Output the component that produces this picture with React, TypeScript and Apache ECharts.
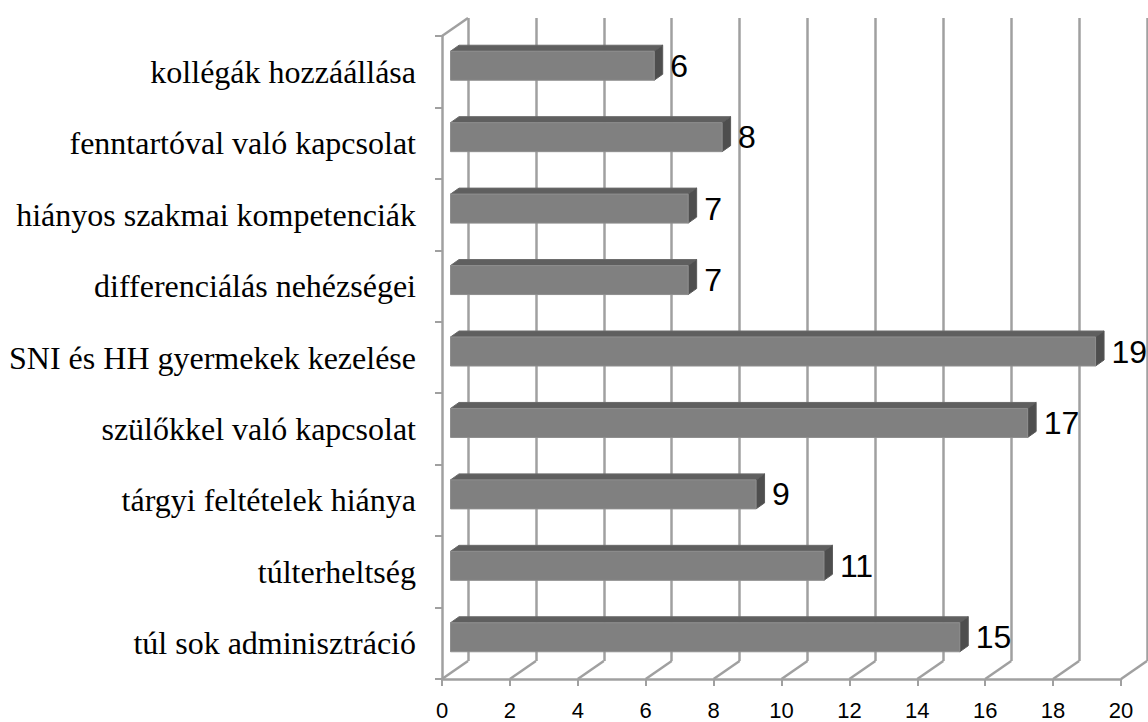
import React, { useEffect, useRef } from "react";
import * as echarts from "echarts";

const categories = [
  "kollégák hozzáállása",
  "fenntartóval való kapcsolat",
  "hiányos szakmai kompetenciák",
  "differenciálás nehézségei",
  "SNI és HH gyermekek kezelése",
  "szülőkkel való kapcsolat",
  "tárgyi feltételek hiánya",
  "túlterheltség",
  "túl sok adminisztráció",
];
const values = [6, 8, 7, 7, 19, 17, 9, 11, 15];
const xTicks = [0, 2, 4, 6, 8, 10, 12, 14, 16, 18, 20];

const GRID_COLOR = "#a0a0a0";
const DEPTH_X = 26;
const DEPTH_Y = -18;

export default function App() {
  const ref = useRef<HTMLDivElement>(null);
  useEffect(() => {
    if (!ref.current) return;
    const chart = echarts.init(ref.current, null, { renderer: "svg" });
    const front = { left: 442, top: 36, width: 679, height: 643 };
    chart.setOption({
      animation: false,
      backgroundColor: "#ffffff",
      grid: [
        { ...front },
        {
          left: front.left + DEPTH_X,
          top: front.top + DEPTH_Y,
          width: front.width,
          height: front.height,
        },
      ],
      xAxis: [
        {
          gridIndex: 0,
          type: "value",
          min: 0,
          max: 20,
          interval: 2,
          axisLine: { show: true, lineStyle: { color: GRID_COLOR, width: 2.5 } },
          axisTick: { show: true, length: 7, lineStyle: { color: GRID_COLOR, width: 2 } },
          splitLine: { show: false },
          axisLabel: {
            color: "#000",
            fontSize: 22,
            fontFamily: "Liberation Sans",
            margin: 20,
          },
        },
        {
          gridIndex: 1,
          type: "value",
          min: 0,
          max: 20,
          interval: 2,
          axisLine: { show: false },
          axisTick: { show: false },
          axisLabel: { show: false },
          splitLine: { show: true, lineStyle: { color: GRID_COLOR, width: 2.5 } },
        },
      ],
      yAxis: [
        {
          gridIndex: 0,
          type: "category",
          data: categories,
          inverse: true,
          axisLine: { show: true, lineStyle: { color: GRID_COLOR, width: 2.5 } },
          axisTick: { show: true, length: 7, lineStyle: { color: GRID_COLOR, width: 2 } },
          axisLabel: {
            color: "#000",
            fontSize: 32,
            fontFamily: "Liberation Serif",
            margin: 26,
          },
          splitLine: { show: false },
        },
        {
          gridIndex: 1,
          type: "category",
          data: categories,
          inverse: true,
          show: false,
        },
      ],
      series: [
        {
          type: "custom",
          xAxisIndex: 0,
          yAxisIndex: 0,
          clip: false,
          z: 1,
          data: xTicks.map((v) => [v, 0]),
          renderItem: (params: any, api: any) => {
            const v = api.value(0);
            const x = api.coord([v, 0])[0];
            const cs = params.coordSys;
            const bottom = cs.y + cs.height;
            const children: any[] = [
              {
                type: "line",
                shape: { x1: x, y1: bottom, x2: x + DEPTH_X, y2: bottom + DEPTH_Y },
                style: { stroke: GRID_COLOR, lineWidth: 2.5 },
              },
            ];
            if (v === 0) {
              children.push({
                type: "line",
                shape: { x1: x, y1: cs.y, x2: x + DEPTH_X, y2: cs.y + DEPTH_Y },
                style: { stroke: GRID_COLOR, lineWidth: 2.5 },
              });
            }
            return { type: "group", children };
          },
        },
        {
          type: "custom",
          xAxisIndex: 0,
          yAxisIndex: 0,
          clip: false,
          z: 5,
          data: values.map((v, i) => [v, i]),
          renderItem: (params: any, api: any) => {
            const v = api.value(0);
            const idx = api.value(1);
            const [x, yc] = api.coord([v, idx]);
            const x0 = api.coord([0, idx])[0];
            const dx = 8.5;
            const dy = -6;
            const h = 29;
            const cy = yc - 6;
            const top = cy - h / 2;
            const bottom = cy + h / 2;
            const l = x0 + dx;
            const r = x + dx;
            return {
              type: "group",
              children: [
                {
                  type: "polygon",
                  shape: {
                    points: [
                      [l, top],
                      [r, top],
                      [r + dx, top + dy],
                      [l + dx, top + dy],
                    ],
                  },
                  style: { fill: "#5f5f5f", stroke: "#6a6a6a", lineWidth: 1 },
                },
                {
                  type: "polygon",
                  shape: {
                    points: [
                      [r, top],
                      [r + dx, top + dy],
                      [r + dx, bottom + dy],
                      [r, bottom],
                    ],
                  },
                  style: { fill: "#4e4e4e", stroke: "#5a5a5a", lineWidth: 1 },
                },
                {
                  type: "rect",
                  shape: { x: l, y: top, width: r - l, height: h },
                  style: { fill: "#808080", stroke: "#8e8e8e", lineWidth: 1 },
                },
                {
                  type: "text",
                  style: {
                    text: String(v),
                    x: r + 16,
                    y: cy,
                    fill: "#000",
                    fontSize: 32,
                    fontFamily: "Liberation Sans",
                    align: "left",
                    verticalAlign: "middle",
                  },
                },
              ],
            };
          },
        },
      ],
    });
    return () => chart.dispose();
  }, []);
  return (
    <div
      ref={ref}
      style={{ position: "absolute", left: 0, top: 0, width: 1148, height: 722 }}
    />
  );
}
